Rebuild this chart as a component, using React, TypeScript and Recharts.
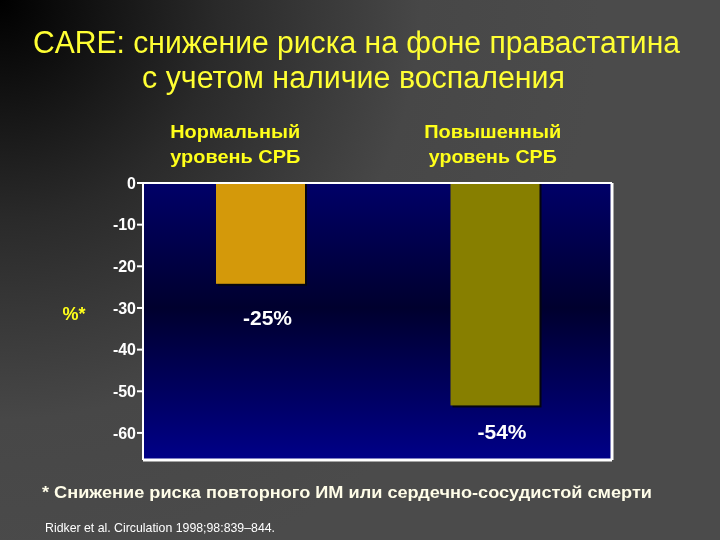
import { Bar, BarChart, CartesianGrid, LabelList, XAxis, YAxis } from "recharts";

// data
const categories = ["Нормальный|уровень СРБ", "Повышенный|уровень СРБ"];
const riskChange = [-24.2, -53.4];
const valueLabels = ["-25%", "-54%"];
const yTicks = [0, -10, -20, -30, -40, -50, -60];

const data = categories.map((cat, i) => ({
  cat,
  value: riskChange[i],
  label: valueLabels[i],
}));

const barColors = ["#d4990a", "#877f00"];
const catShift = [-25, -2];
const labelDy = [41, 34];
const FONT = "'Liberation Sans', Arial, sans-serif";

function CategoryTick(props: any) {
  const { x, y, payload, index } = props;
  const lines = String(payload.value).split("|");
  const cx = x + (catShift[index] ?? 0);
  const widths = [[130, 130], [137, 128]][index] ?? [130, 130];
  return (
    <g>
      {lines.map((t, i) => (
        <text
          key={i}
          x={cx}
          y={y - 45 + i * 25}
          textAnchor="middle"
          fill="#ffff1a"
          fontSize={18}
          fontWeight="bold"
          fontFamily={FONT}
          textLength={widths[i]}
          lengthAdjust="spacingAndGlyphs"
        >
          {t}
        </text>
      ))}
    </g>
  );
}

function ShadowBar(props: any) {
  const { x, y, width, height, index } = props;
  const top = Math.min(y, y + height);
  const h = Math.abs(height);
  return (
    <g>
      <rect x={x + 2} y={top} width={width} height={h + 2} fill="#05050f" />
      <rect x={x} y={top} width={width} height={h} fill={barColors[index]} />
    </g>
  );
}

function ValueLabel(props: any) {
  const { x, y, width, height, value, index } = props;
  const bottom = Math.max(y, y + height);
  return (
    <text
      x={x + width / 2 + 7}
      y={bottom + (labelDy[index] ?? 38)}
      textAnchor="middle"
      fill="#ffffff"
      fontSize={21}
      fontWeight="bold"
      fontFamily={FONT}
    >
      {value}
    </text>
  );
}

export default function App() {
  return (
    <div
      style={{
        position: "fixed",
        left: 0,
        top: 0,
        width: 720,
        height: 540,
        background:
          "radial-gradient(circle at 0 0, #000000 0px, #2a2a2a 220px, #474747 420px, #4b4b4b 600px)",
        overflow: "hidden",
      }}
    >
      <svg
        width={720}
        height={540}
        style={{ position: "absolute", left: 0, top: 0 }}
      >
        <text
          x={356.5}
          y={53}
          textAnchor="middle"
          fill="#ffff33"
          fontSize={31}
          fontFamily={FONT}
          textLength={647}
          lengthAdjust="spacingAndGlyphs"
        >
          CARE: снижение риска на фоне правастатина
        </text>
        <text
          x={353.5}
          y={88}
          textAnchor="middle"
          fill="#ffff33"
          fontSize={31}
          fontFamily={FONT}
          textLength={423}
          lengthAdjust="spacingAndGlyphs"
        >
          с учетом наличие воспаления
        </text>
        <text
          x={74}
          y={320}
          textAnchor="middle"
          fill="#ffff1a"
          fontSize={18}
          fontWeight="bold"
          fontFamily={FONT}
        >
          %*
        </text>
        <text
          x={42}
          y={498}
          fill="#fffde8"
          fontSize={17}
          fontWeight="bold"
          fontFamily={FONT}
          textLength={610}
          lengthAdjust="spacingAndGlyphs"
        >
          * Снижение риска повторного ИМ или сердечно-сосудистой смерти
        </text>
        <text
          x={45}
          y={532}
          fill="#ffffff"
          fontSize={13}
          fontFamily={FONT}
          textLength={230}
          lengthAdjust="spacingAndGlyphs"
        >
          Ridker et al. Circulation 1998;98:839–844.
        </text>
      </svg>
      <div style={{ position: "absolute", left: 0, top: 0 }}>
        <BarChart
          width={720}
          height={540}
          data={data}
          margin={{ top: 123, right: 108, left: 83, bottom: 80 }}
        >
          <defs>
            <linearGradient id="plotGrad" x1="0" y1="0" x2="0" y2="1">
              <stop offset="0%" stopColor="#000068" />
              <stop offset="45%" stopColor="#00002e" />
              <stop offset="100%" stopColor="#000088" />
            </linearGradient>
          </defs>
          <CartesianGrid
            fill="url(#plotGrad)"
            fillOpacity={1}
            stroke="#ffffff"
            strokeWidth={3}
            horizontalCoordinatesGenerator={(p: any) => [
              p.offset.top + p.offset.height,
            ]}
            verticalCoordinatesGenerator={(p: any) => [
              p.offset.left + p.offset.width,
            ]}
          />
          <XAxis
            dataKey="cat"
            orientation="top"
            height={60}
            axisLine={{ stroke: "#ffffff", strokeWidth: 2 }}
            tickLine={false}
            tickSize={0}
            tickMargin={0}
            tick={<CategoryTick />}
            interval={0}
          />
          <YAxis
            type="number"
            domain={[-66.5, 0]}
            ticks={yTicks}
            width={60}
            axisLine={{ stroke: "#ffffff", strokeWidth: 2 }}
            tickLine={{ stroke: "#ffffff", strokeWidth: 2 }}
            tickSize={6}
            tickMargin={1}
            tick={{
              fill: "#ffffff",
              fontSize: 16,
              fontWeight: "bold",
              fontFamily: FONT,
            }}
            tickFormatter={(v: number) => String(v)}
          />
          <Bar
            dataKey="value"
            barSize={89}
            shape={<ShadowBar />}
            isAnimationActive={false}
          >
            <LabelList dataKey="label" content={<ValueLabel />} />
          </Bar>
        </BarChart>
      </div>
    </div>
  );
}
